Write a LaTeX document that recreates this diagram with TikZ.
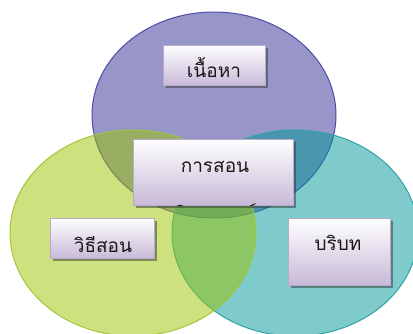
\documentclass[tikz,border=0pt]{standalone}
\usepackage{fontspec}
\newfontfamily\thaifont[Script=Thai]{Loma}
\usetikzlibrary{shadows}
\definecolor{topfill}{RGB}{49,45,145}
\definecolor{leftfill}{RGB}{155,197,0}
\definecolor{rightfill}{RGB}{0,151,151}
\definecolor{topline}{RGB}{78,76,170}
\definecolor{leftline}{RGB}{158,200,58}
\definecolor{rightline}{RGB}{48,162,168}
\definecolor{boxbot}{RGB}{200,186,216}
\definecolor{boxline}{RGB}{184,170,204}
\tikzset{
	set/.style={fill opacity=0.5,line width=1pt},
	box/.style={draw=boxline,line width=0.7pt,top color=white,bottom color=boxbot,inner sep=0pt,
		drop shadow={shadow xshift=2.5pt,shadow yshift=-2.5pt,fill=black!80,opacity=0.5}},
	lbl/.style={font=\thaifont\fontsize{19}{22}\selectfont,text=black!90,inner sep=0pt,anchor=base}
}
\begin{document}
\begin{tikzpicture}[x=1pt,y=-1pt]
	\useasboundingbox (0,0) rectangle (413,333);
	\clip (0,0) rectangle (413,333);
	% three sets
	\draw[set,fill=topfill,draw=topline] (214,115) ellipse [x radius=122pt,y radius=103pt];
	\draw[set,fill=rightfill,draw=rightline] (295,233) ellipse [x radius=123pt,y radius=103pt];
	\draw[set,fill=leftfill,draw=leftline] (133,233) ellipse [x radius=123pt,y radius=103pt];
	% boxes
	\node[box,minimum width=102pt,minimum height=40pt] (content) at (214,65) {};
	\node[box,minimum width=160pt,minimum height=66pt] (core) at (213,172) {};
	\node[box,minimum width=104pt,minimum height=40pt] (method) at (102,238) {};
	\node[box,minimum width=102pt,minimum height=67pt] (context) at (339,251.5) {};
	% texts
	\node[lbl] (content-t) at (214,77) {เนื้อหา};
	\node[lbl] (core-t) at (215,172) {การสอน};
	\node[lbl] (method-t) at (103,252) {วิธีสอน};
	\node[lbl] (context-t) at (338,250) {บริบท};
	\begin{scope}
		\clip (core.south west) rectangle (core.north east);
		\node[lbl] (core-b) at (207,220) {คณิตศาสตร์};
	\end{scope}
\end{tikzpicture}
\end{document}
